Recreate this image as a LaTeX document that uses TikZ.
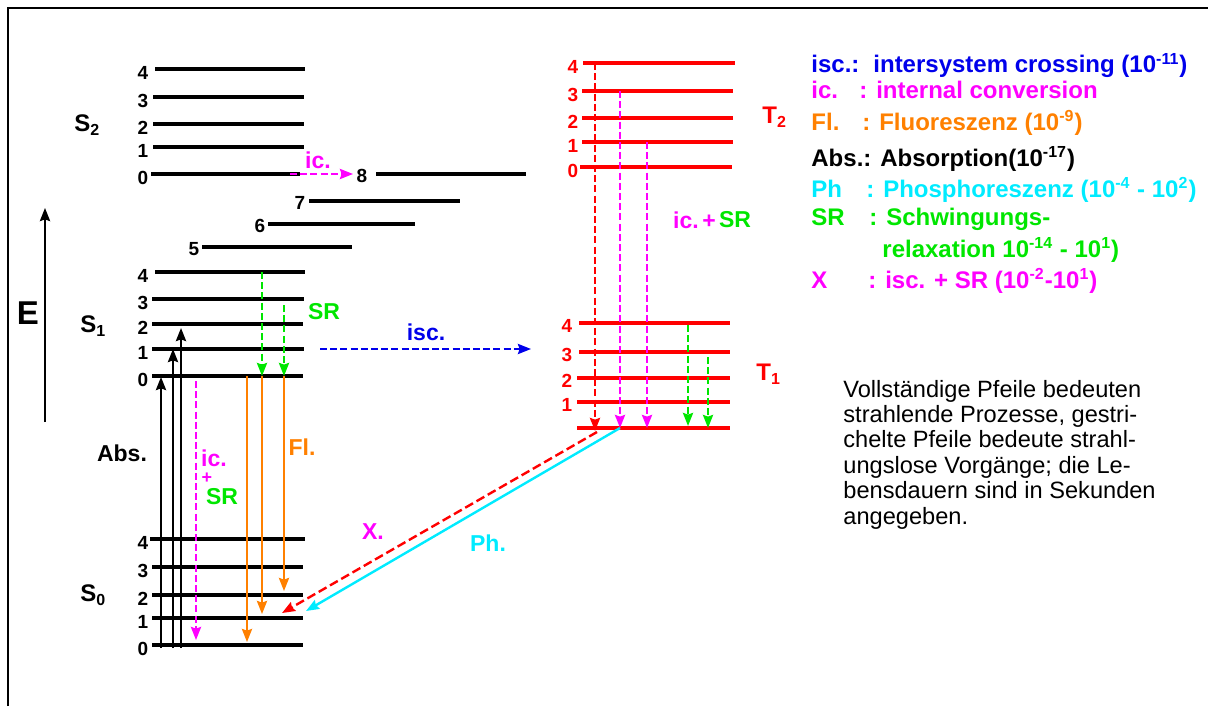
\documentclass[tikz,border=0pt]{standalone}
\usepackage{fontspec}
\setmainfont{Liberation Sans}
\usetikzlibrary{arrows.meta}
\definecolor{cblue}{RGB}{0,0,235}
\definecolor{cmag}{RGB}{255,0,255}
\definecolor{corange}{RGB}{255,128,0}
\definecolor{cgreen}{RGB}{0,230,0}
\definecolor{ccyan}{RGB}{0,235,255}
\definecolor{cred}{RGB}{255,0,0}
\begin{document}
\begin{tikzpicture}[x=0.5pt,y=-0.5pt,
  lvl/.style={line width=1.6pt},
  num/.style={font=\fontsize{9.5}{10}\selectfont\bfseries, inner sep=0pt},
  state/.style={font=\fontsize{12}{13}\selectfont\bfseries, inner sep=0pt, anchor=west},
  lab/.style={font=\fontsize{11.5}{12}\selectfont\bfseries, inner sep=0pt},
  leg/.style={font=\fontsize{12}{14}\selectfont\bfseries, inner sep=0pt, anchor=base west},
  arr/.style={-{Stealth[length=6.5pt,width=5pt,inset=0.8pt]}, line width=1.2pt},
  dsh/.style={dash pattern=on 3.5pt off 1.6pt}
]
\useasboundingbox (0,0) rectangle (1208,706);
% frame
\draw[line width=0.7pt] (8,706) -- (8,8) -- (1208,8);

% E axis
\coordinate (Ebot) at (45,422);
\coordinate (Etop) at (45,208);
\draw[arr] (Ebot) -- (Etop);
\node[font=\fontsize{16.5}{18}\selectfont\bfseries, inner sep=0pt] (E) at (28,313) {E};

% S2 levels
\foreach \y/\a/\b/\t in {69/155/305/4, 97/153/304/3, 124/153/304/2, 147/153/304/1, 174/151/300/0}{
  \draw[lvl] (\a,\y) -- (\b,\y);
  \node[num] (S2n\t) at (143,\y+4) {\t};
}
\node[state] (S2) at (74,125) {S\textsubscript{2}};

% intermediate levels
\draw[lvl] (376,174) -- (526,174); \node[num] (n8) at (362,176) {8};
\draw[lvl] (309,201) -- (460,201); \node[num] (n7) at (300,203) {7};
\draw[lvl] (268,224) -- (415,224); \node[num] (n6) at (260,226) {6};
\draw[lvl] (202,247) -- (352,247); \node[num] (n5) at (194,249) {5};

% S1 levels
\foreach \y/\a/\b/\t in {272/155/305/4, 299/152/304/3, 324/152/303/2, 349/152/304/1, 376/152/303/0}{
  \draw[lvl] (\a,\y) -- (\b,\y);
  \node[num] (S1n\t) at (143,\y+4) {\t};
}
\node[state] (S1) at (80,326) {S\textsubscript{1}};

% S0 levels
\foreach \y/\a/\b/\t in {539/150/305/4, 567/152/303/3, 595/152/303/2, 618/152/303/1, 645/152/303/0}{
  \draw[lvl] (\a,\y) -- (\b,\y);
  \node[num] (S0n\t) at (143,\y+4) {\t};
}
\node[state] (S0) at (80,595) {S\textsubscript{0}};

% T2 levels
\foreach \y/\a/\b/\t in {63/583/735/4, 91/582/733/3, 118/582/733/2, 142/582/733/1, 167/580/732/0}{
  \draw[lvl, cred] (\a,\y) -- (\b,\y);
  \node[num, text=cred] (T2n\t) at (573,\y+4) {\t};
}
\node[state, text=cred] (T2) at (762,117) {T\textsubscript{2}};

% T1 levels
\foreach \y/\a/\b in {323/579/730, 352/579/730, 378/577/730, 402/577/730, 428/577/730}{
  \draw[lvl, cred] (\a,\y) -- (\b,\y);
}
\foreach \y/\t in {323/4, 352/3, 378/2, 402/1}{
  \node[num, text=cred] (T1n\t) at (567,\y+3) {\t};
}
\node[state, text=cred] (T1) at (756,374) {T\textsubscript{1}};

% coordinates for arrows
\coordinate (icA) at (290,174);   \coordinate (icB) at (353,174);
\coordinate (sr1a) at (262,272);  \coordinate (sr1b) at (262,376);
\coordinate (sr2a) at (284,305);  \coordinate (sr2b) at (284,376);
\coordinate (fl1a) at (247,376);  \coordinate (fl1b) at (247,642);
\coordinate (fl2a) at (262,376);  \coordinate (fl2b) at (262,614);
\coordinate (fl3a) at (284,376);  \coordinate (fl3b) at (284,591);
\coordinate (ab1a) at (161,648);  \coordinate (ab1b) at (161,377);
\coordinate (ab2a) at (173,648);  \coordinate (ab2b) at (173,349);
\coordinate (ab3a) at (181,648);  \coordinate (ab3b) at (181,328);
\coordinate (icsA) at (196,381);  \coordinate (icsB) at (196,640);
\coordinate (iscA) at (320,349);  \coordinate (iscB) at (531,349);
\coordinate (t1a) at (595,63);    \coordinate (t1b) at (595,431);
\coordinate (t2a) at (620,91);    \coordinate (t2b) at (620,428);
\coordinate (t3a) at (647,142);   \coordinate (t3b) at (647,428);
\coordinate (t4a) at (688,325);   \coordinate (t4b) at (688,426);
\coordinate (t5a) at (708,357);   \coordinate (t5b) at (708,428);
\coordinate (xA) at (597,432);    \coordinate (xB) at (282,613);
\coordinate (phA) at (620,428);   \coordinate (phB) at (306,611);

% arrows
\draw[arr, dsh, cmag] (icA) -- (icB);
\draw[arr, dsh, cgreen] (sr1a) -- (sr1b);
\draw[arr, dsh, cgreen] (sr2a) -- (sr2b);
\draw[arr, corange] (fl1a) -- (fl1b);
\draw[arr, corange] (fl2a) -- (fl2b);
\draw[arr, corange] (fl3a) -- (fl3b);
\draw[arr] (ab1a) -- (ab1b);
\draw[arr] (ab2a) -- (ab2b);
\draw[arr] (ab3a) -- (ab3b);
\draw[arr, dsh, cmag] (icsA) -- (icsB);
\draw[arr, dsh, cblue] (iscA) -- (iscB);
\draw[arr, dsh, cred] (t1a) -- (t1b);
\draw[arr, dsh, cmag] (t2a) -- (t2b);
\draw[arr, dsh, cmag] (t3a) -- (t3b);
\draw[arr, dsh, cgreen] (t4a) -- (t4b);
\draw[arr, dsh, cgreen] (t5a) -- (t5b);
\draw[arr, cred, dash pattern=on 4.5pt off 2pt] (xA) -- (xB);
\draw[arr, ccyan] (phA) -- (phB);

% process labels
\node[lab, text=cmag] (icS2) at (318,160) {ic.};
\node[lab, text=cgreen] (srS1) at (324,312) {SR};
\node[lab, text=cblue] (iscL) at (426,332) {isc.};
\node[lab] (absL) at (122,453) {Abs.};
\node[lab, text=cmag] (icL) at (214,458) {ic.};
\node[lab, text=cmag, font=\fontsize{9}{10}\selectfont\bfseries] (plusL) at (207,478) {+};
\node[lab, text=cgreen] (srL) at (222,497) {SR};
\node[lab, text=corange] (flL) at (302,447) {Fl.};
\node[lab, text=cmag] (xL) at (373,532) {X.};
\node[lab, text=ccyan] (phL) at (488,543) {Ph.};
\node[lab, text=cmag] (icT) at (686,220) {ic.};
\node[lab, text=cmag] (plusT) at (709,222) {+};
\node[lab, text=cgreen] (srT) at (735,220) {SR};

% legend
\node[leg, text=cblue] (g1k) at (811,73) {isc.:};
\node[leg, text=cblue] (g1t) at (873,73) {intersystem crossing (10\textsuperscript{-11})};
\node[leg, text=cmag] (g2k) at (811,98) {ic.};
\node[leg, text=cmag] (g2t) at (859,98) {: internal conversion};
\node[leg, text=corange] (g3k) at (811,130) {Fl.};
\node[leg, text=corange] (g3t) at (862,130) {: Fluoreszenz (10\textsuperscript{-9})};
\node[leg] (g4) at (811,166) {Abs.: Absorption(10\textsuperscript{-17})};
\node[leg, text=ccyan] (g5k) at (811,197) {Ph};
\node[leg, text=ccyan] (g5t) at (866,197) {: Phosphoreszenz (10\textsuperscript{-4} - 10\textsuperscript{2})};
\node[leg, text=cgreen] (g6k) at (811,225) {SR};
\node[leg, text=cgreen] (g6t) at (869,225) {: Schwingungs-};
\node[leg, text=cgreen] (g7t) at (882,257) {relaxation 10\textsuperscript{-14} - 10\textsuperscript{1})};
\node[leg, text=cmag] (g8k) at (811,288) {X};
\node[leg, text=cmag] (g8t) at (868,288) {: isc. + SR (10\textsuperscript{-2}-10\textsuperscript{1})};

% description (base anchor is the baseline of the last line)
\node[font=\fontsize{11.8}{12.7}\selectfont, inner sep=0pt, anchor=base west, align=left] (desc) at (843,524)
 {Vollständige Pfeile bedeuten\\strahlende Prozesse, gestri-\\chelte Pfeile bedeute strahl-\\ungslose Vorgänge; die Le-\\bensdauern sind in Sekunden\\angegeben.};
\end{tikzpicture}
\end{document}
